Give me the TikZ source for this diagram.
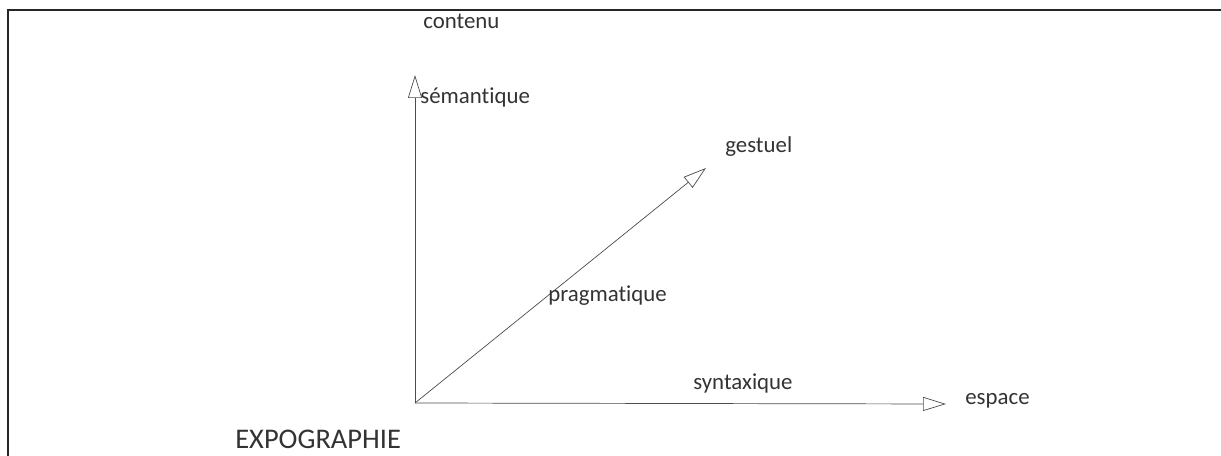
\documentclass[tikz,border=0pt]{standalone}
\usepackage{fontspec}
\setmainfont{Carlito}[Ligatures={NoCommon}]
\usetikzlibrary{arrows.meta}
\tikzset{
  axlabel/.style={inner sep=0pt,font=\fontsize{13}{15}\selectfont,text=black!80},
  biglabel/.style={axlabel,font=\fontsize{16.2}{19}\selectfont},
  axedge/.style={-{Triangle[open,length=4.6mm,width=2.8mm]},thin,black!70},
  frameline/.style={line width=1pt,black!85},
}

\begin{document}
\begin{tikzpicture}[x=0.02cm,y=-0.02cm]
  \useasboundingbox (0,0) rectangle (1221,456);
  \draw[frameline] (8,456) -- (8,10) -- (1221,10);
  \coordinate (o) at (415,403);
  \coordinate (ctop) at (415,75);
  \coordinate (eend) at (946,404);
  \coordinate (gend) at (706,168);
  \draw[axedge] (o) -- (ctop);
  \draw[axedge] (o) -- (eend);
  \draw[axedge] (o) -- (gend);
  \node[axlabel,anchor=west] (ncontenu) at (423,21) {contenu};
  \node[axlabel,anchor=west] (nsem) at (420,97) {sémantique};
  \node[axlabel,anchor=west] (ngest) at (725,147) {gestuel};
  \node[axlabel,anchor=west] (nprag) at (548,296) {pragmatique};
  \node[axlabel,anchor=west] (nsynt) at (693,383) {syntaxique};
  \node[axlabel,anchor=west] (nesp) at (965,401) {espace};
  \node[biglabel,anchor=west] (nexpo) at (235,439) {EXPOGRAPHIE};
\end{tikzpicture}
\end{document}
